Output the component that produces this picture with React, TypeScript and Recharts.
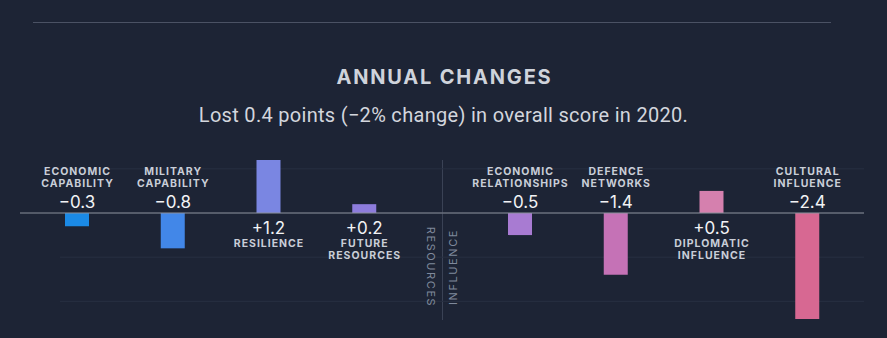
import React from "react";
import { BarChart, Bar, XAxis, YAxis, CartesianGrid, ReferenceLine, Cell, LabelList } from "recharts";

const resourceNames = ["ECONOMIC\nCAPABILITY", "MILITARY\nCAPABILITY", "RESILIENCE", "FUTURE\nRESOURCES"];
const resourceValues = [-0.3, -0.8, 1.2, 0.2];
const resourceColors = ["#1b8ae6", "#4287e8", "#7a86e2", "#8d7cdc"];

const influenceNames = ["ECONOMIC\nRELATIONSHIPS", "DEFENCE\nNETWORKS", "DIPLOMATIC\nINFLUENCE", "CULTURAL\nINFLUENCE"];
const influenceValues = [-0.5, -1.4, 0.5, -2.4];
const influenceColors = ["#a87bd2", "#c572b6", "#d580ae", "#d76892"];

const yDomain = [-2.4, 1.2];
const yTicks = [1, 0, -1, -2];

const BG = "#1d2435";
const FONT = "Inter, 'Noto Sans', sans-serif";

const fmt = (v: number) => (v < 0 ? "\u2212" + Math.abs(v).toFixed(1) : "+" + v.toFixed(1));

function makeLabel(names: string[], values: number[]) {
  return (props: any) => {
    const { x, y, width, height, index } = props;
    const v = values[index];
    const nx = Number(x), ny = Number(y), nw = Number(width), nh = Number(height);
    const top = Math.min(ny, ny + nh);
    const bottom = Math.max(ny, ny + nh);
    const cx = nx + nw / 2;
    const lines = names[index].split("\n");
    const els: any[] = [];
    if (v < 0) {
      const zeroY = top;
      els.push(
        <text key="v" x={cx} y={zeroY - 11.5} textAnchor="middle" dominantBaseline="central" fill="#f2f3f5" fontSize={17} fontFamily={FONT} fontWeight={400}>
          {fmt(v)}
        </text>
      );
      lines.forEach((ln, i) => {
        const fromBottom = lines.length - 1 - i;
        els.push(
          <text key={"n" + i} x={cx + 0.5} y={zeroY - 30 - 12 * fromBottom} textAnchor="middle" dominantBaseline="central" fill="#c9ced8" fontSize={10.5} fontFamily={FONT} fontWeight={700} letterSpacing={1}>
            {ln}
          </text>
        );
      });
    } else {
      const zeroY = bottom;
      els.push(
        <text key="v" x={cx} y={zeroY + 15} textAnchor="middle" dominantBaseline="central" fill="#f2f3f5" fontSize={17} fontFamily={FONT} fontWeight={400}>
          {fmt(v)}
        </text>
      );
      lines.forEach((ln, i) => {
        els.push(
          <text key={"n" + i} x={cx + 0.5} y={zeroY + 30 + 12 * i} textAnchor="middle" dominantBaseline="central" fill="#c9ced8" fontSize={10.5} fontFamily={FONT} fontWeight={700} letterSpacing={1}>
            {ln}
          </text>
        );
      });
    }
    return <g>{els}</g>;
  };
}

function Panel({ names, values, colors, width, margin, padding, gridX, gridW }: any) {
  const data = names.map((n: string, i: number) => ({ name: n, value: values[i] }));
  return (
    <BarChart width={width} height={338} data={data} margin={margin}>
      <CartesianGrid horizontal vertical={false} stroke="#283042" x={gridX} width={gridW} horizontalValues={yTicks} syncWithTicks />
      <XAxis dataKey="name" type="category" hide padding={padding} />
      <YAxis hide domain={yDomain} ticks={yTicks} type="number" allowDataOverflow />
      <Bar dataKey="value" barSize={24} isAnimationActive={false}>
        {data.map((_: any, i: number) => (
          <Cell key={i} fill={colors[i]} />
        ))}
        <LabelList dataKey="value" content={makeLabel(names, values)} />
      </Bar>
      <ReferenceLine y={0} stroke="#8a8f9b" strokeWidth={1} ifOverflow="visible" />
    </BarChart>
  );
}

export default function App() {
  return (
    <div style={{ position: "relative", width: 887, height: 338, background: BG, overflow: "hidden", fontFamily: FONT }}>
      <style>{`body{margin:0;background:${BG};}`}</style>
      <div style={{ position: "absolute", left: 33, top: 22, width: 798, height: 1, background: "#4b5264" }} />
      <div style={{ position: "absolute", left: 1, top: 64, width: 887, textAlign: "center", color: "#cfd3db", fontSize: 20, fontWeight: 700, letterSpacing: 1.8, lineHeight: "26px" }}>
        ANNUAL CHANGES
      </div>
      <div style={{ position: "absolute", left: 0, top: 102, width: 887, textAlign: "center", color: "#d3d6dd", fontSize: 20, fontWeight: 400, letterSpacing: 0.3, lineHeight: "26px", fontFamily: "Roboto, Inter, sans-serif" }}>
        Lost 0.4 points (−2% change) in overall score in 2020.
      </div>
      <div style={{ position: "absolute", left: 441.5, top: 160, width: 1, height: 160, background: "#3a4255" }} />
      <div style={{ position: "absolute", left: 0, top: 0 }}>
        <Panel names={resourceNames} values={resourceValues} colors={resourceColors} width={442} margin={{ top: 160, right: 0, bottom: 19, left: 20 }} padding={{ left: 9, right: 30 }} gridX={60} gridW={382} />
      </div>
      <div style={{ position: "absolute", left: 442, top: 0 }}>
        <Panel names={influenceNames} values={influenceValues} colors={influenceColors} width={445} margin={{ top: 160, right: 23, bottom: 19, left: 0 }} padding={{ left: 30, right: 9 }} gridX={0} gridW={422} />
      </div>
      <div style={{ position: "absolute", left: 381, top: 261, width: 100, textAlign: "center", lineHeight: "12px", fontSize: 11, letterSpacing: 1.6, color: "#7f899b", transform: "rotate(90deg)" }}>
        RESOURCES
      </div>
      <div style={{ position: "absolute", left: 402.5, top: 261, width: 100, textAlign: "center", lineHeight: "12px", fontSize: 11, letterSpacing: 1.6, color: "#7f899b", transform: "rotate(-90deg)" }}>
        INFLUENCE
      </div>
    </div>
  );
}
